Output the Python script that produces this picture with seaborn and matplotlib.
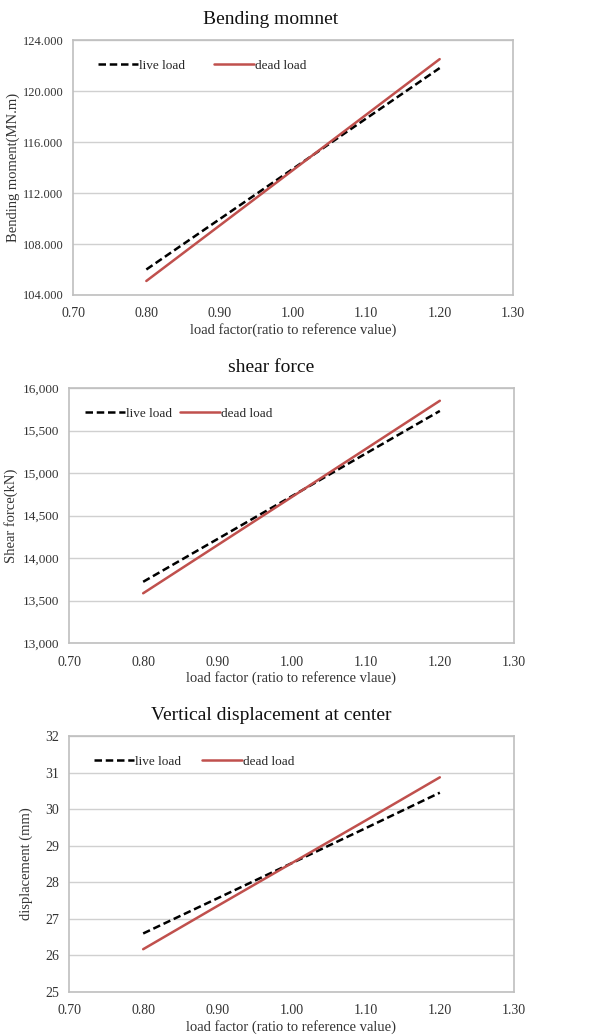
import numpy as np
import pandas as pd
import seaborn as sns
import matplotlib.pyplot as plt
from matplotlib.ticker import FuncFormatter

# load factor (ratio to reference value)
load_factor = [0.80, 0.90, 1.00, 1.10, 1.20]

# bending moment
bm_live = [106.0, 109.95, 113.9, 117.85, 121.8]
bm_dead = [105.1, 109.45, 113.8, 118.15, 122.5]

# shear force (kN)
sf_live = [13720, 14222, 14725, 15228, 15730]
sf_dead = [13585, 14150, 14715, 15282, 15850]

# vertical displacement (mm)
disp_live = [26.60, 27.56, 28.52, 29.48, 30.45]
disp_dead = [26.17, 27.35, 28.52, 29.69, 30.87]

sns.set_style("white")
plt.rcParams['font.family'] = ['Liberation Serif', 'DejaVu Serif']

fig = plt.figure(figsize=(6.05, 10.35), dpi=100)

panels = [
    dict(rect=[73/605, 1-295/1035, 440/605, 255/1035], title='Bending momnet',
         live=bm_live, dead=bm_dead, ylim=(104, 124), step=4,
         fmt=lambda v, p: '%.3f' % v, ylabel='Bending moment(MN.m)', ysize=9,
         xlabel='load factor(ratio to reference value)', ty=20, ylx=13,
         leg=(0.03, 0.97), colsp=2.2),
    dict(rect=[69/605, 1-643/1035, 445/605, 255/1035], title='shear force',
         live=sf_live, dead=sf_dead, ylim=(13000, 16000), step=500,
         fmt=lambda v, p: '{:,.0f}'.format(v), ylabel='Shear force(kN)', ysize=9.5,
         xlabel='load factor (ratio to reference vlaue)', ty=367, ylx=11,
         leg=(0.01, 0.97), colsp=0.6),
    dict(rect=[69/605, 1-992/1035, 445/605, 256/1035], title='Vertical displacement at center',
         live=disp_live, dead=disp_dead, ylim=(25, 32), step=1,
         fmt=lambda v, p: '%d' % v, ylabel='displacement (mm)', ysize=10,
         xlabel='load factor (ratio to reference value)', ty=715, ylx=26,
         leg=(0.03, 0.97), colsp=1.6),
]

for p in panels:
    ax = fig.add_axes(p['rect'])
    df = pd.DataFrame({
        'load factor': load_factor * 2,
        'value': p['live'] + p['dead'],
        'case': ['live load'] * 5 + ['dead load'] * 5,
    })
    sns.lineplot(data=df, x='load factor', y='value', hue='case', style='case',
                 palette={'live load': 'black', 'dead load': '#c0504d'},
                 dashes={'live load': (3, 1.5), 'dead load': ''},
                 linewidth=1.8, ax=ax)
    ax.set_xlim(0.70, 1.30)
    ax.set_ylim(*p['ylim'])
    ax.set_xticks(np.arange(0.70, 1.31, 0.10))
    ax.xaxis.set_major_formatter(FuncFormatter(lambda v, q: '%.2f' % v))
    ax.set_yticks(np.arange(p['ylim'][0], p['ylim'][1] + p['step'] / 2, p['step']))
    ax.yaxis.set_major_formatter(FuncFormatter(p['fmt']))
    ax.grid(axis='y', color='#d0d0d0', linewidth=1)
    ax.set_axisbelow(True)
    for s in ax.spines.values():
        s.set_color('#bfbfbf')
        s.set_linewidth(1.2)
    ax.tick_params(length=0, colors='#333333')
    ax.tick_params(axis='x', pad=9, labelsize=10)
    ax.tick_params(axis='y', pad=7, labelsize=p['ysize'])
    ax.set_xlabel(p['xlabel'], fontsize=10.5, color='#333333', labelpad=2)
    ax.set_ylabel('')
    fig.text(p['ylx'] / 605, p['rect'][1] + p['rect'][3] / 2, p['ylabel'],
             rotation=90, ha='center', va='center', fontsize=10.5, color='#333333')
    fig.text(271 / 605, 1 - p['ty'] / 1035, p['title'], ha='center', va='center',
             fontsize=14, color='#111111')
    ax.legend(loc='upper left', bbox_to_anchor=p['leg'], ncol=2, frameon=False,
              fontsize=9.5, handlelength=3.0, handletextpad=0.1, columnspacing=p['colsp'])

fig.savefig('out.png', dpi=100)
